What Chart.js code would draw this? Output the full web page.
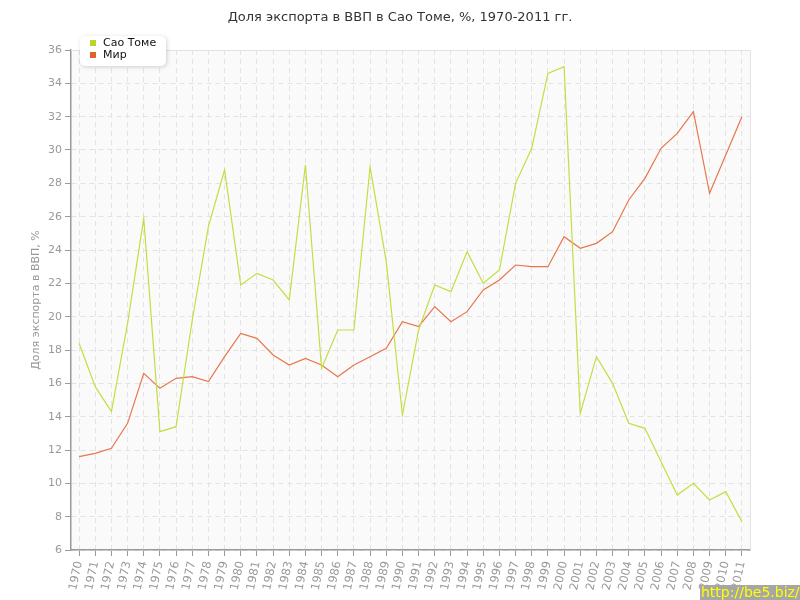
<!DOCTYPE html>
<html>
<head>
<meta charset="utf-8">
<title>Доля экспорта в ВВП в Сао Томе</title>
<script src="https://cdn.jsdelivr.net/npm/chart.js@4.4.1/dist/chart.umd.min.js"></script>
<style>
  body { margin: 0; background: #fff; }
  #wrap { width: 800px; height: 600px; }
</style>
</head>
<body>
<div id="wrap"><canvas id="chart" width="800" height="600"></canvas></div>
<script>
// data
const years = ['1970', '1971', '1972', '1973', '1974', '1975', '1976', '1977', '1978', '1979',
  '1980', '1981', '1982', '1983', '1984', '1985', '1986', '1987', '1988', '1989',
  '1990', '1991', '1992', '1993', '1994', '1995', '1996', '1997', '1998', '1999',
  '2000', '2001', '2002', '2003', '2004', '2005', '2006', '2007', '2008', '2009',
  '2010', '2011'];

const saoTome = [18.4, 15.8, 14.3, 19.6, 25.9, 13.1, 13.4, 19.8, 25.4, 28.8,
  21.9, 22.6, 22.2, 21.0, 29.1, 16.9, 19.2, 19.2, 29.0, 23.3,
  14.1, 19.2, 21.9, 21.5, 23.9, 22.0, 22.8, 28.0, 30.1, 34.6,
  35.0, 14.2, 17.6, 16.0, 13.6, 13.3, 11.3, 9.3, 10.0, 9.0,
  9.5, 7.7];

const world = [11.6, 11.8, 12.1, 13.6, 16.6, 15.7, 16.3, 16.4, 16.1, 17.6,
  19.0, 18.7, 17.7, 17.1, 17.5, 17.1, 16.4, 17.1, 17.6, 18.1,
  19.7, 19.4, 20.6, 19.7, 20.3, 21.6, 22.2, 23.1, 23.0, 23.0,
  24.8, 24.1, 24.4, 25.1, 27.0, 28.3, 30.1, 31.0, 32.3, 27.4,
  29.7, 32.0];

const seriesNames = ['Сао Томе', 'Мир'];
const seriesColors = ['#c3de43', '#e8764a'];
const legendColors = ['#b6d52d', '#e0622e'];

const chartTitle = 'Доля экспорта в ВВП в Сао Томе, %, 1970-2011 гг.';
const yTitle = 'Доля экспорта в ВВП, %';
const yMin = 6, yMax = 36, yStep = 2;

Chart.defaults.font.family = '"DejaVu Sans", Verdana, sans-serif';

// background, frame, title, legend box and the site mark
const decor = {
  id: 'decor',
  beforeDraw(chart) {
    const { ctx, chartArea: a } = chart;
    ctx.save();
    ctx.fillStyle = '#fafafa';
    ctx.fillRect(a.left, a.top, a.right - a.left, a.bottom - a.top);
    ctx.restore();
  },
  beforeDatasetsDraw(chart) {
    const { ctx, chartArea: a } = chart;
    ctx.save();
    ctx.strokeStyle = '#e2e2e2';
    ctx.lineWidth = 1;
    ctx.beginPath();
    ctx.moveTo(a.left, a.top + 0.5);
    ctx.lineTo(a.right + 0.5, a.top + 0.5);
    ctx.lineTo(a.right + 0.5, a.bottom);
    ctx.stroke();
    ctx.restore();
  },
  afterDraw(chart) {
    const ctx = chart.ctx;
    ctx.save();

    // title
    ctx.fillStyle = '#333';
    ctx.font = '13px "DejaVu Sans"';
    ctx.textAlign = 'center';
    ctx.textBaseline = 'middle';
    ctx.fillText(chartTitle, 400, 18);

    // legend
    const bx = 80, by = 36, bw = 86, bh = 30;
    ctx.shadowColor = 'rgba(0,0,0,0.18)';
    ctx.shadowBlur = 4;
    ctx.shadowOffsetX = 1;
    ctx.shadowOffsetY = 1;
    ctx.fillStyle = '#fff';
    ctx.beginPath();
    ctx.roundRect(bx, by, bw, bh, 5);
    ctx.fill();
    ctx.shadowColor = 'transparent';
    ctx.font = '11px "DejaVu Sans"';
    ctx.textAlign = 'left';
    chart.data.datasets.forEach((ds, i) => {
      const y = by + 7 + i * 12;
      ctx.fillStyle = legendColors[i];
      ctx.fillRect(bx + 10, y - 3, 6, 6);
      ctx.fillStyle = '#111';
      ctx.fillText(ds.label, bx + 23, y);
    });

    // site mark
    ctx.fillStyle = '#a6a6a6';
    ctx.fillRect(700, 585, 100, 15);
    ctx.fillStyle = '#ffff00';
    ctx.font = '14px "DejaVu Sans"';
    ctx.textBaseline = 'alphabetic';
    ctx.fillText('http://be5.biz/', 701, 597);
    ctx.restore();
  }
};

new Chart(document.getElementById('chart'), {
  type: 'line',
  data: {
    labels: years,
    datasets: [
      {
        label: seriesNames[0],
        data: saoTome,
        borderColor: seriesColors[0],
        borderWidth: 1.2,
        pointRadius: 0,
        tension: 0,
        fill: false
      },
      {
        label: seriesNames[1],
        data: world,
        borderColor: seriesColors[1],
        borderWidth: 1.2,
        pointRadius: 0,
        tension: 0,
        fill: false
      }
    ]
  },
  options: {
    responsive: false,
    animation: false,
    layout: { padding: { top: 50, right: 50, left: 0, bottom: 0 } },
    plugins: {
      legend: { display: false },
      title: { display: false },
      tooltip: { enabled: false }
    },
    scales: {
      x: {
        type: 'category',
        offset: true,
        grid: {
          offset: false,
          color: '#e3e3e3',
          tickColor: '#999',
          tickLength: 6,
          tickBorderDash: []
        },
        border: { color: '#999', width: 1.5, dash: [5, 4] },
        ticks: {
          autoSkip: false,
          minRotation: 78,
          maxRotation: 78,
          padding: 4,
          color: '#999',
          font: { size: 11.5 }
        },
        afterFit(scale) { scale.height = 50; }
      },
      y: {
        min: yMin,
        max: yMax,
        grid: {
          color: '#e3e3e3',
          tickColor: '#999',
          tickLength: 6,
          tickBorderDash: []
        },
        border: { color: '#999', width: 1.5, dash: [5, 4] },
        ticks: {
          stepSize: yStep,
          padding: 3,
          color: '#999',
          font: { size: 11 }
        },
        title: {
          display: true,
          text: yTitle,
          color: '#999',
          font: { size: 11 },
          padding: { top: 30, bottom: 0 }
        },
        afterFit(scale) { scale.width = 71; }
      }
    }
  },
  plugins: [decor]
});
</script>
</body>
</html>
